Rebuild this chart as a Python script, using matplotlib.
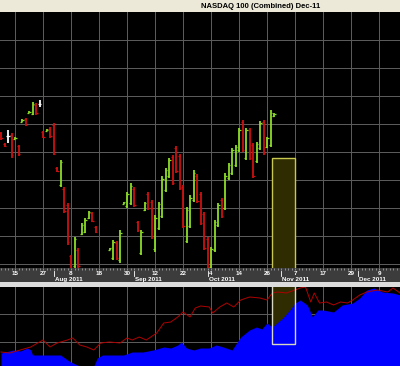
import numpy as np
import pandas as pd
import matplotlib
matplotlib.use("Agg")
import matplotlib.pyplot as plt
from matplotlib.patches import Rectangle

# trading days (Labor Day off), projected days run on to mid December
all_days = pd.bdate_range("2011-07-11", "2011-12-16")
days = all_days[all_days != pd.Timestamp("2011-09-05")]

title = "NASDAQ 100 (Combined) Dec-11"

# daily OHLC, Jul 11 .. Oct 28 (None = no bar)
opens = [2348, 2320, 2340, 2342, 2333, 2314, 2376, 2382, 2398, 2396,
         2418, 2420, 2350, 2353, 2358, 2368, 2260, 2218, 2208, 2168,
         2040, 2015, 2055, 2095, 2100, 2135, 2148, 2112, None, None,
         None, 2056, 2035, 2072, 2030, 2171, 2165, 2172, 2208, 2124,
         2048, 2155, 2196, 2175, 2058, 2110, 2140, 2205, 2240, 2288,
         2310, 2290, 2212, 2078, 2115, 2180, 2240, 2195, 2145, 2082,
         2012, 2055, 2118, 2180, 2160, 2235, 2248, 2268, 2305, 2375,
         2285, 2355, 2318, 2278, 2310, 2375, 2312, 2318, 2389]
highs = [2350, 2322, 2355, 2347, 2337, 2317, 2382, 2385, 2402, 2425,
         2422, 2430, 2352, 2357, 2362, 2372, 2262, 2280, 2212, 2172,
         2042, 2087, 2060, 2122, 2135, 2152, 2150, 2115, None, None,
         None, 2060, 2080, 2077, 2105, 2175, 2200, 2222, 2212, 2127,
         2105, 2175, 2200, 2180, 2142, 2175, 2240, 2260, 2285, 2292,
         2315, 2295, 2217, 2162, 2192, 2255, 2245, 2200, 2150, 2087,
         2062, 2130, 2172, 2185, 2247, 2272, 2310, 2317, 2360, 2380,
         2360, 2360, 2322, 2325, 2377, 2380, 2337, 2405, 2397]
lows = [2330, 2312, 2322, 2285, 2332, 2290, 2375, 2365, 2397, 2392,
        2392, 2412, 2335, 2352, 2335, 2292, 2250, 2212, 2147, 2067,
        2006, 2008, 2008, 2092, 2097, 2132, 2125, 2097, None, None,
        None, 2055, 2030, 2030, 2022, 2170, 2160, 2167, 2162, 2100,
        2042, 2152, 2155, 2082, 2050, 2105, 2135, 2200, 2235, 2217,
        2247, 2205, 2110, 2072, 2110, 2175, 2172, 2117, 2055, 2008,
        2008, 2050, 2112, 2135, 2155, 2230, 2242, 2262, 2300, 2300,
        2280, 2280, 2235, 2272, 2305, 2292, 2310, 2312, 2387]
closes = [2334, 2314, 2340, 2292, 2336, 2294, 2380, 2368, 2401, 2420,
          2398, 2420, 2338, 2356, 2340, 2296, 2253, 2275, 2152, 2075,
          2010, 2082, 2015, 2118, 2130, 2150, 2128, 2100, None, None,
          None, 2059, 2075, 2035, 2098, 2174, 2195, 2215, 2168, 2104,
          2100, 2172, 2160, 2090, 2135, 2170, 2232, 2255, 2280, 2222,
          2252, 2210, 2115, 2155, 2185, 2248, 2178, 2122, 2060, 2012,
          2058, 2125, 2168, 2140, 2240, 2268, 2305, 2312, 2355, 2305,
          2355, 2285, 2240, 2320, 2372, 2298, 2334, 2398, 2395]

# lower panel: blue area and red line (x in bar units)
blue_x = [0, 3.5, 5.5, 7.5, 8.5, 9, 12, 17, 19, 20.5, 22.5, 26.5, 27.5, 29,
          32, 35, 37.5, 40.5, 43.5, 46.5, 48.5, 50.5, 51.5, 53, 55, 57, 59.5,
          61.5, 63.5, 66, 67.5, 68.5, 71, 73, 74.5, 76, 77.5, 80.5, 82.5, 84,
          85.5, 87.5, 89, 90.5, 92, 95, 97.5, 100.5, 102.5, 104.5, 106.5,
          109, 112, 114]
blue_v = [13, 16, 15, 18, 16, 11, 11, 11, 6, 3, 0, 0, 8, 11,
          11, 11, 14, 14, 16, 19, 18, 21, 24, 18, 16, 18, 18,
          21, 19, 16, 24, 29, 36, 39, 37, 43, 39, 48, 56, 63,
          66, 61, 49, 56, 56, 54, 61, 63, 68, 76, 78,
          74, 73, 71]
red_x = [0, 2.5, 5.5, 8.5, 10.5, 12, 14, 16, 19, 20.5, 22.5, 24.5, 26.5,
         28.5, 31, 34, 36, 37.5, 39.5, 41.5, 44.5, 46.5, 48.5, 50.5, 52, 54,
         55.5, 57, 59.5, 60.5, 62.5, 64.5, 66.5, 68.5, 71, 74, 76, 77.5, 79,
         81.5, 84, 85.5, 87, 88.5, 89.5, 91, 93, 95, 97, 99, 100.5, 102.5,
         104.5, 107.5, 110.5, 112, 114]
red_v = [14, 13, 16, 19, 23, 26, 19, 23, 26, 28, 21, 19, 16,
         23, 24, 23, 28, 26, 29, 26, 33, 43, 44, 49, 54, 49,
         58, 60, 59, 53, 59, 63, 59, 66, 69, 68, 66, 73, 74,
         73, 76, 78, 79, 64, 73, 63, 64, 61, 64, 63, 66, 71,
         74, 76, 74, 78, 73]

# highlighted zone
zone_x0, zone_x1 = 77.4, 84.0
zone_top_price = 2285
zone_low_val = 22

GREEN = "#8cdc28"
RED = "#cc1010"
WHITE = "#ffffff"
GRID = "#5e5e5e"

W, H = 400, 366
fig = plt.figure(figsize=(W / 100, H / 100), dpi=100, facecolor="#ece9d8")


def px(x0, y0, x1, y1):
    return [x0 / W, 1 - y1 / H, (x1 - x0) / W, (y1 - y0) / H]


xlim = (-0.29, 114.0)

# separator band under the date strip
band = fig.add_axes(px(0, 282, 400, 287))
band.set_facecolor("#dcdcdc")
band.set_xticks([])
band.set_yticks([])
for s in band.spines.values():
    s.set_visible(False)

# main price panel
ax = fig.add_axes(px(0, 12, 400, 268))
ax.set_facecolor("black")
ax.set_xlim(*xlim)
ax.set_ylim(2010, 2650)
for s in ax.spines.values():
    s.set_visible(False)
ax.set_xticks([])
ax.set_yticks([])

grid_idx = np.arange(4, 114, 8)
for g in grid_idx:
    ax.axvline(g, color=GRID, lw=0.7, zorder=0)
for p in np.arange(2020, 2650, 70):
    ax.axhline(p, color=GRID, lw=0.7, zorder=0)

ax.add_patch(Rectangle((zone_x0, 1990), zone_x1 - zone_x0, zone_top_price - 1990,
                       facecolor="#2e2c00", edgecolor="#c8c850", lw=1.0, zorder=1))

o = np.array(opens, dtype=float)
h = np.array(highs, dtype=float)
l = np.array(lows, dtype=float)
c = np.array(closes, dtype=float)
idx = np.arange(len(o))
ok = ~np.isnan(o)
col = np.where(c > o, GREEN, np.where(c < o, RED, WHITE))
ax.vlines(idx[ok], l[ok], h[ok], colors=col[ok], lw=1.3, zorder=3)
ax.hlines(o[ok], idx[ok] - 0.45, idx[ok], colors=col[ok], lw=0.9, zorder=3)
ax.hlines(c[ok], idx[ok], idx[ok] + 0.45, colors=col[ok], lw=0.9, zorder=3)

# date strip
axd = fig.add_axes(px(0, 268, 400, 282))
axd.set_facecolor("#3c3c3c")
axd.set_xlim(*xlim)
axd.set_ylim(0, 1)
for s in axd.spines.values():
    s.set_visible(False)
axd.set_yticks([])
axd.set_xticks(np.arange(0, 114))
axd.set_xticklabels([])
axd.tick_params(axis="x", top=True, bottom=False, direction="in",
                length=1.5, width=0.5, color="#b0b0b0")

for g in grid_idx:
    axd.text(g, 0.62, str(days[g].day), color="white", fontsize=4.5,
             family="Liberation Sans", weight="bold", ha="center", va="center")
month_starts = [i for i in range(1, 114) if days[i].month != days[i - 1].month]
for m in month_starts:
    axd.plot([m, m], [0.42, 0.78], color="white", lw=0.6)
    axd.text(m + 0.3, 0.2, days[m].strftime("%b %Y"), color="white", fontsize=4.5,
             family="Liberation Sans", weight="bold", ha="left", va="center")

# lower panel
axb = fig.add_axes(px(0, 287, 400, 366))
axb.set_facecolor("black")
axb.set_xlim(*xlim)
axb.set_ylim(0, 79)
for s in axb.spines.values():
    s.set_visible(False)
axb.set_xticks([])
axb.set_yticks([])
for g in grid_idx:
    axb.axvline(g, color=GRID, lw=0.7, zorder=0)
for v in [24, 52]:
    axb.axhline(v, color=GRID, lw=0.7, zorder=0)
axb.add_patch(Rectangle((zone_x0, zone_low_val), zone_x1 - zone_x0, 90 - zone_low_val,
                        facecolor="#2e2c00", edgecolor="none", zorder=1))
axb.fill_between(blue_x, 0, blue_v, color="#0000ff", lw=0, zorder=2)
axb.plot(red_x, red_v, color="#b00000", lw=0.7, zorder=3)
axb.add_patch(Rectangle((zone_x0, zone_low_val), zone_x1 - zone_x0, 90 - zone_low_val,
                        facecolor="none", edgecolor="#d8d8c0", lw=1.0, zorder=4))

fig.text(261 / W, 1 - 6 / H, title, ha="center", va="center", fontsize=5.5,
         family="Liberation Sans", weight="bold", color="black")

fig.savefig("out.png", dpi=100, facecolor=fig.get_facecolor())
